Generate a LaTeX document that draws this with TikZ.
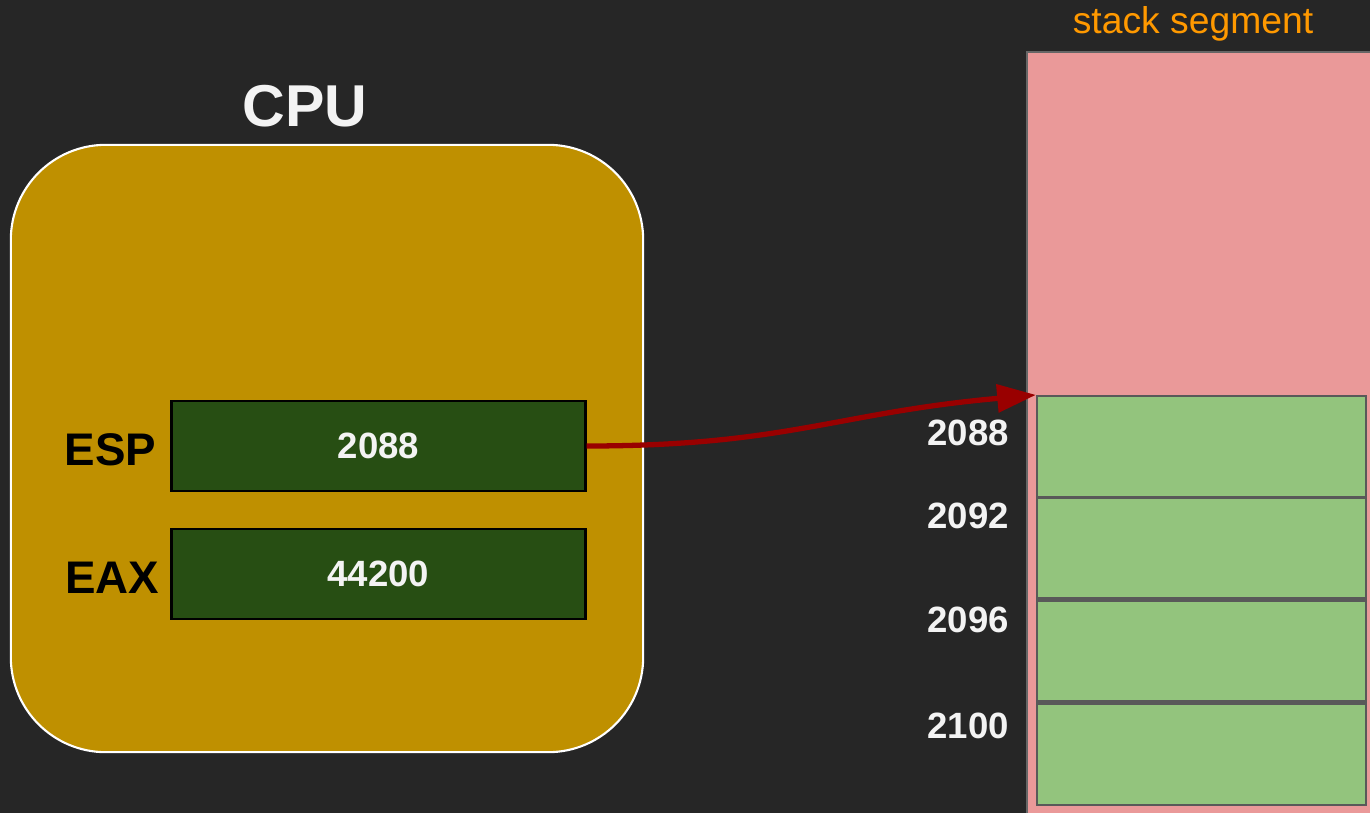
\documentclass[tikz,border=0pt]{standalone}
\usepackage{fontspec}
\setmainfont{Liberation Sans}
\usetikzlibrary{arrows.meta}

\definecolor{bgdark}{HTML}{262626}
\definecolor{cpugold}{HTML}{BF9000}
\definecolor{regdark}{HTML}{274E13}
\definecolor{segpink}{HTML}{EA9999}
\definecolor{cellgreen}{HTML}{93C47D}
\definecolor{ptrred}{HTML}{990000}
\definecolor{segorange}{HTML}{FF9900}
\definecolor{offwhite}{HTML}{F3F3F3}

\begin{document}
\begin{tikzpicture}[x=0.01cm, y=-0.01cm,
    cpubox/.style={draw=white, line width=0.6pt, fill=cpugold, rounded corners=0.95cm,
      minimum width=6.32cm, minimum height=6.07cm, inner sep=0},
    regbox/.style={draw=black, line width=0.8pt, fill=regdark, text=offwhite,
      minimum width=4.13cm, minimum height=0.9cm, inner sep=0,
      font=\fontsize{10.4}{12}\selectfont\bfseries},
    reglabel/.style={anchor=east, inner sep=0, font=\fontsize{13}{15}\selectfont\bfseries},
    cellbox/.style={draw=black!65, line width=0.6pt, fill=cellgreen,
      minimum width=3.29cm, minimum height=1.01cm, inner sep=0},
    addr/.style={text=offwhite, inner sep=0, font=\fontsize{10.4}{12}\selectfont\bfseries}]
      \useasboundingbox (0,0) rectangle (1370,812);
      \fill[bgdark] (-10,-10) rectangle (1380,822);
      \clip (-10,-10) rectangle (1380,822);

      % cpu
      \node[text=offwhite, font=\fontsize{16.8}{20}\selectfont\bfseries] (cputitle) at (305,106) {CPU};
      \node[cpubox] (cpu) at (327,448.5) {};
      \node[regbox] (esp) at (378.5,446) {2088};
      \node[regbox] (eax) at (378.5,574) {44200};
      \node[reglabel] (esplabel) at (157,450) {ESP};
      \node[reglabel] (eaxlabel) at (160,578) {EAX};

      % stack segment
      \draw[draw=black!60, line width=0.6pt, fill=segpink] (1027,52) rectangle (1400,840);
      \node[text=segorange, anchor=base, font=\fontsize{10.6}{12}\selectfont] (segtitle) at (1193,33) {stack segment};
      \node[cellbox] (c1) at (1201.5,446.5) {};
      \node[cellbox] (c2) at (1201.5,548) {};
      \node[cellbox] (c3) at (1201.5,651) {};
      \node[cellbox] (c4) at (1201.5,754.5) {};
      \node[addr] (a1) at (968,433) {2088};
      \node[addr] (a2) at (968,516) {2092};
      \node[addr] (a3) at (968,620) {2096};
      \node[addr] (a4) at (968,726) {2100};

      \draw[ptrred, line width=1.5pt, -{Triangle[length=11pt, width=7.8pt]}]
        (esp.east) .. controls +(200,0) and +(-200,18) .. (c1.north west);
\end{tikzpicture}
\end{document}
